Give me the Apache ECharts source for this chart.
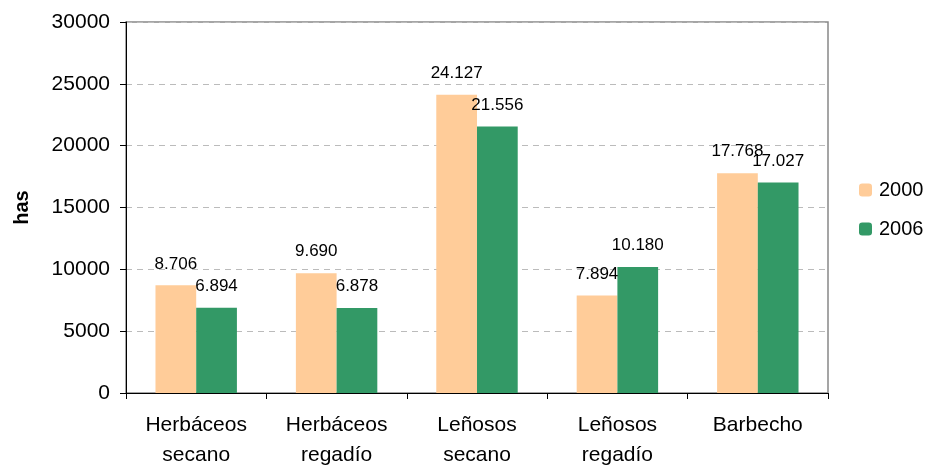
<!DOCTYPE html>
<html>
<head>
<meta charset="utf-8">
<script src="https://cdn.jsdelivr.net/npm/echarts@6/dist/echarts.min.js"></script>
<style>html,body{margin:0;padding:0;background:#fff}#c{width:929px;height:467px}</style>
</head>
<body>
<div id="c"></div>
<script>
const categories = ['Herbáceos\nsecano', 'Herbáceos\nregadío', 'Leñosos\nsecano', 'Leñosos\nregadío', 'Barbecho'];
const values2000 = [8706, 9690, 24127, 7894, 17768];
const values2006 = [6894, 6878, 21556, 10180, 17027];
const yTicks = [0, 5000, 10000, 15000, 20000, 25000, 30000];

const fmt = v => String(v).replace(/\B(?=(\d{3})+(?!\d))/g, '.');
const font = 'Liberation Sans, Arial, sans-serif';
const chart = echarts.init(document.getElementById('c'));
const lbl = {
  show: true, position: 'top', distance: 13, color: '#000', fontSize: 17, fontFamily: font,
  formatter: p => fmt(p.value)
};
chart.setOption({
  animation: false,
  grid: { left: 126, top: 22, right: 101, bottom: 74, show: true, borderColor: '#888', borderWidth: 1.5,
          containLabel: false, outerBoundsMode: 'none' },
  legend: {
    orient: 'vertical', left: 854, top: 175, padding: 5, itemWidth: 13, itemHeight: 13, itemGap: 19,
    textStyle: { fontSize: 20, fontFamily: font, color: '#000', padding: [0, 0, 0, 2] },
    data: ['2000', '2006']
  },
  xAxis: {
    type: 'category', data: categories,
    axisLine: { lineStyle: { color: '#000', width: 1 } },
    axisTick: { show: true, length: 6, lineStyle: { color: '#000' } },
    axisLabel: { color: '#000', fontSize: 21, fontFamily: font, lineHeight: 30, margin: 17 }
  },
  yAxis: {
    type: 'value', min: yTicks[0], max: yTicks[yTicks.length - 1], interval: 5000,
    name: 'has', nameLocation: 'middle', nameGap: 94,
    nameTextStyle: { fontSize: 20, fontWeight: 'bold', fontFamily: font, color: '#000' },
    axisLine: { show: true, lineStyle: { color: '#000', width: 1 } },
    axisTick: { show: true, length: 6, lineStyle: { color: '#000' } },
    axisLabel: { color: '#000', fontSize: 21, fontFamily: font, margin: 16, formatter: v => String(v) },
    splitLine: { show: true, lineStyle: { color: '#bbb', type: [6, 5], width: 1 } }
  },
  series: [
    { name: '2000', type: 'bar', data: values2000, barGap: '0%', barCategoryGap: '42%',
      itemStyle: { color: '#FFCC99' }, label: lbl },
    { name: '2006', type: 'bar', data: values2006,
      itemStyle: { color: '#339966' }, label: lbl }
  ]
});
</script>
</body>
</html>
